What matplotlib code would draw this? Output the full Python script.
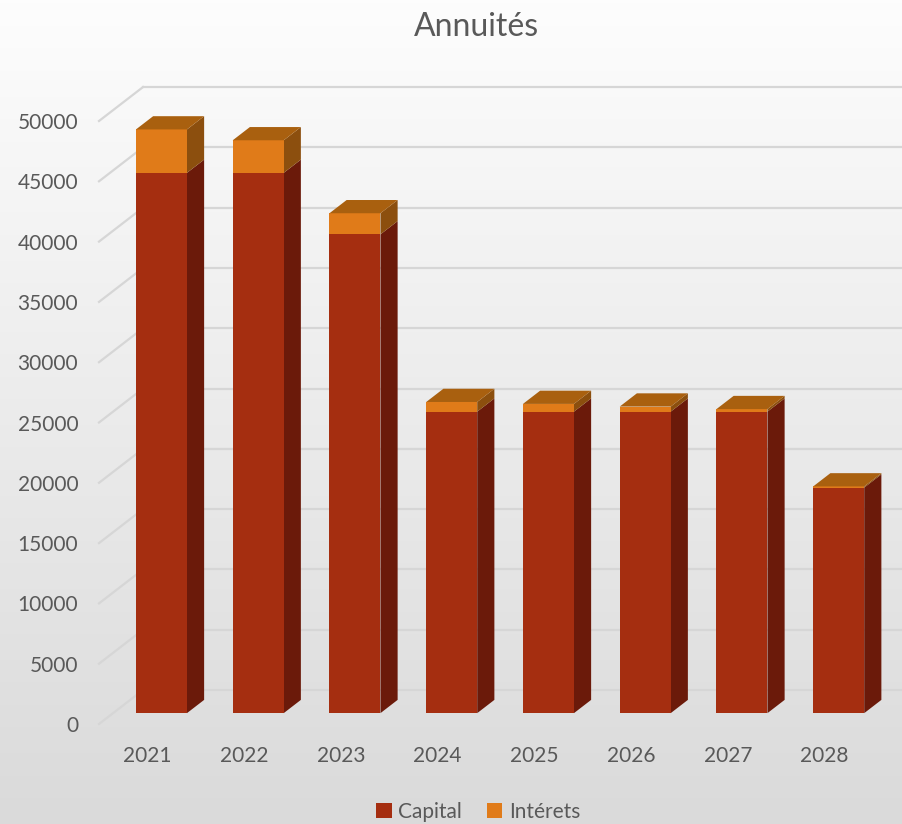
import numpy as np
import matplotlib
matplotlib.use("Agg")
import matplotlib.pyplot as plt
from matplotlib.patches import Polygon, Patch
from matplotlib.colors import LinearSegmentedColormap

plt.rcParams['font.family'] = ['Lato', 'DejaVu Sans']

years = ['2021', '2022', '2023', '2024', '2025', '2026', '2027', '2028']
capital = [44800, 44800, 39700, 25000, 25000, 25000, 25000, 18700]
interets = [3600, 2700, 1750, 800, 640, 420, 210, 100]
y_ticks = list(range(0, 50001, 5000))

# colours: front, side, top
cap_cols = ('#A52E10', '#6B1A0A', '#8A3A12')
int_cols = ('#E07B19', '#8C4F0E', '#A9600F')
txt = '#595959'
grid = '#D6D6D6'

# oblique depth (data units) : full depth of the floor
DX = 0.455
DY = 2815.0
f_front = 0.32
f_back = 0.71
w = 0.527

fig = plt.figure(figsize=(9.02, 8.24), dpi=100)

bg = fig.add_axes([0, 0, 1, 1], zorder=-10)
cmap = LinearSegmentedColormap.from_list('bg', ['#DADADA', '#FDFDFD'])
bg.imshow(np.linspace(0, 1, 256).reshape(-1, 1), cmap=cmap,
          aspect='auto', extent=[0, 1, 0, 1], origin='lower')
bg.axis('off')

ax = fig.add_axes([99 / 902, 1 - 724 / 824, 774 / 902, 603 / 824])
ax.set_facecolor('none')
ax.set_xlim(-0.5, len(years) - 0.5)
ax.set_ylim(0, 50000)
for s in ax.spines.values():
    s.set_visible(False)

# walls gridlines
x0 = -0.5
for v in y_ticks:
    ax.plot([x0, x0 + DX], [v, v + DY], color=grid, lw=1.6, clip_on=False, zorder=1)
    ax.plot([x0 + DX, len(years) + 1], [v + DY, v + DY], color=grid, lw=1.6,
            clip_on=False, zorder=1)


def box(i, b, t, cols, top):
    xl = i - w / 2
    xr = i + w / 2
    fx, fy = f_front * DX, f_front * DY
    bx, by = f_back * DX, f_back * DY
    side = [(xr + fx, b + fy), (xr + bx, b + by), (xr + bx, t + by), (xr + fx, t + fy)]
    ax.add_patch(Polygon(side, closed=True, facecolor=cols[1], edgecolor='none',
                         clip_on=False, zorder=3))
    front = [(xl + fx, b + fy), (xr + fx, b + fy), (xr + fx, t + fy), (xl + fx, t + fy)]
    ax.add_patch(Polygon(front, closed=True, facecolor=cols[0], edgecolor='none',
                         clip_on=False, zorder=4))
    if top:
        tp = [(xl + fx, t + fy), (xr + fx, t + fy), (xr + bx, t + by), (xl + bx, t + by)]
        ax.add_patch(Polygon(tp, closed=True, facecolor=cols[2], edgecolor='none',
                             clip_on=False, zorder=4))


for i in range(len(years)):
    box(i, 0, capital[i], cap_cols, False)
    box(i, capital[i], capital[i] + interets[i], int_cols, True)

ax.set_xticks(range(len(years)))
ax.set_xticklabels(years)
ax.set_yticks(y_ticks)
ax.set_yticklabels([str(v) for v in y_ticks])
ax.tick_params(axis='both', length=0, labelsize=15, labelcolor=txt)
ax.tick_params(axis='x', pad=16)
ax.tick_params(axis='y', pad=15)

fig.text(0.528, 1 - 27 / 824, 'Annuités', ha='center', va='center',
         fontsize=23, color=txt)

handles = [Patch(facecolor=cap_cols[0], label='Capital'),
           Patch(facecolor=int_cols[0], label='Intérets')]
fig.legend(handles=handles, loc='center', bbox_to_anchor=(0.53, 1 - 812 / 824),
           ncol=2, frameon=False, fontsize=15, labelcolor=txt,
           handlelength=0.75, handleheight=0.75, handletextpad=0.3,
           columnspacing=1.2)

fig.savefig('out.png', dpi=100)
